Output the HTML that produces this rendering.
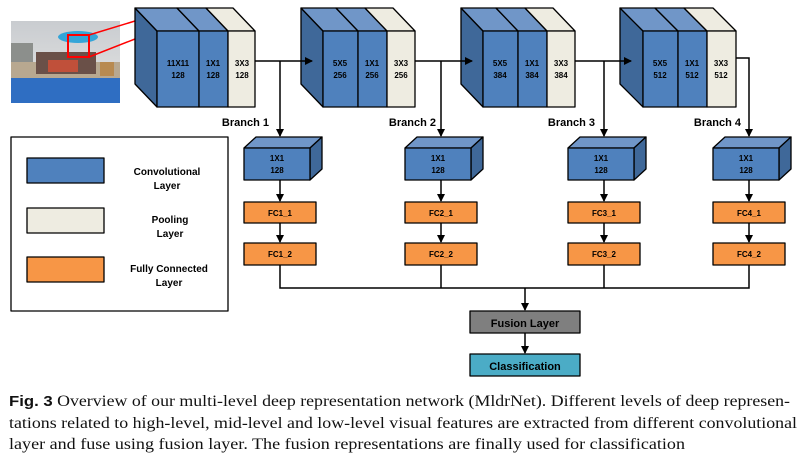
<!DOCTYPE html>
<html><head><meta charset="utf-8"><style>
html,body{margin:0;padding:0;background:#fff;}
svg{display:block;}
.b{font-family:"Liberation Sans",sans-serif;font-weight:bold;}
.s{font-family:"Liberation Serif",serif;font-size:16px;fill:#111;}
</style></head><body>
<svg width="807" height="464" viewBox="0 0 807 464" xmlns="http://www.w3.org/2000/svg">
<defs>
<marker id="a" markerWidth="8" markerHeight="8" refX="7" refY="4" orient="auto" markerUnits="userSpaceOnUse"><path d="M0,0 L8,4 L0,8 z" fill="#000"/></marker>
<linearGradient id="sky" x1="0" y1="0" x2="0" y2="1"><stop offset="0" stop-color="#c9ccd0"/><stop offset="1" stop-color="#e6e6e4"/></linearGradient>
</defs>
<!-- photo -->
<rect x="11" y="21" width="109" height="82" fill="url(#sky)"/>
<rect x="11" y="43" width="22" height="25" fill="#8c8f8c"/>
<rect x="11" y="62" width="109" height="18" fill="#b8a890"/>
<ellipse cx="78" cy="37" rx="20" ry="6" fill="#34a5d8"/>
<rect x="36" y="52" width="60" height="22" fill="#6a5048"/>
<rect x="48" y="60" width="30" height="12" fill="#c0503a"/>
<rect x="100" y="62" width="14" height="14" fill="#b88a50"/>
<rect x="11" y="78" width="109" height="25" fill="#2f6ec2"/>
<rect x="68" y="35" width="21" height="22" fill="none" stroke="#f00" stroke-width="2"/>
<line x1="89" y1="35" x2="135" y2="21" stroke="#f00" stroke-width="1.5"/>
<line x1="89" y1="57" x2="135" y2="39" stroke="#f00" stroke-width="1.5"/>

<g stroke="#000" stroke-width="1.3" stroke-linejoin="round">
<!-- Block 1 -->
<polygon points="135,8 157,31 157,107 135,84" fill="#3f6899"/>
<polygon points="135,8 177,8 199,31 157,31" fill="#7096c8"/>
<polygon points="177,8 206,8 228,31 199,31" fill="#7096c8"/>
<polygon points="206,8 233,8 255,31 228,31" fill="#eeece1"/>
<rect x="157" y="31" width="42" height="76" fill="#4f81bd"/>
<rect x="199" y="31" width="29" height="76" fill="#4f81bd"/>
<rect x="228" y="31" width="27" height="76" fill="#eeece1"/>
<!-- Block 2 -->
<polygon points="301,8 323,31 323,107 301,84" fill="#3f6899"/>
<polygon points="301,8 336,8 358,31 323,31" fill="#7096c8"/>
<polygon points="336,8 365,8 387,31 358,31" fill="#7096c8"/>
<polygon points="365,8 393,8 415,31 387,31" fill="#eeece1"/>
<rect x="323" y="31" width="35" height="76" fill="#4f81bd"/>
<rect x="358" y="31" width="29" height="76" fill="#4f81bd"/>
<rect x="387" y="31" width="28" height="76" fill="#eeece1"/>
<!-- Block 3 -->
<polygon points="461,8 483,31 483,107 461,84" fill="#3f6899"/>
<polygon points="461,8 496,8 518,31 483,31" fill="#7096c8"/>
<polygon points="496,8 525,8 547,31 518,31" fill="#7096c8"/>
<polygon points="525,8 553,8 575,31 547,31" fill="#eeece1"/>
<rect x="483" y="31" width="35" height="76" fill="#4f81bd"/>
<rect x="518" y="31" width="29" height="76" fill="#4f81bd"/>
<rect x="547" y="31" width="28" height="76" fill="#eeece1"/>
<!-- Block 4 -->
<polygon points="620,8 643,31 643,107 620,84" fill="#3f6899"/>
<polygon points="620,8 655,8 678,31 643,31" fill="#7096c8"/>
<polygon points="655,8 684,8 707,31 678,31" fill="#7096c8"/>
<polygon points="684,8 713,8 736,31 707,31" fill="#eeece1"/>
<rect x="643" y="31" width="35" height="76" fill="#4f81bd"/>
<rect x="678" y="31" width="29" height="76" fill="#4f81bd"/>
<rect x="707" y="31" width="29" height="76" fill="#eeece1"/>

<!-- branch boxes -->
<g id="bb">
</g>
<polygon points="244,148 256,137 322,137 310,148" fill="#7096c8"/><polygon points="310,148 322,137 322,169 310,180" fill="#3f6899"/><rect x="244" y="148" width="66" height="32" fill="#4f81bd"/>
<polygon points="405,148 417,137 483,137 471,148" fill="#7096c8"/><polygon points="471,148 483,137 483,169 471,180" fill="#3f6899"/><rect x="405" y="148" width="66" height="32" fill="#4f81bd"/>
<polygon points="568,148 580,137 646,137 634,148" fill="#7096c8"/><polygon points="634,148 646,137 646,169 634,180" fill="#3f6899"/><rect x="568" y="148" width="66" height="32" fill="#4f81bd"/>
<polygon points="713,148 725,137 791,137 779,148" fill="#7096c8"/><polygon points="779,148 791,137 791,169 779,180" fill="#3f6899"/><rect x="713" y="148" width="66" height="32" fill="#4f81bd"/>

<g fill="#f79646">
<rect x="244" y="202" width="72" height="21"/><rect x="244" y="243" width="72" height="22"/>
<rect x="405" y="202" width="72" height="21"/><rect x="405" y="243" width="72" height="22"/>
<rect x="568" y="202" width="72" height="21"/><rect x="568" y="243" width="72" height="22"/>
<rect x="713" y="202" width="72" height="21"/><rect x="713" y="243" width="72" height="22"/>
</g>
<rect x="470" y="311" width="110" height="22" fill="#7f7f7f"/>
<rect x="470" y="354" width="110" height="22" fill="#4bacc6"/>

<!-- legend -->
<rect x="11" y="137" width="217" height="174" fill="#fff"/>
<rect x="27" y="158" width="77" height="25" fill="#4f81bd"/>
<rect x="27" y="208" width="77" height="25" fill="#eeece1"/>
<rect x="27" y="257" width="77" height="25" fill="#f79646"/>
</g>

<!-- connectors -->
<g stroke="#000" stroke-width="1.5" fill="none">
<line x1="255" y1="61" x2="312" y2="61" marker-end="url(#a)"/>
<line x1="415" y1="61" x2="472" y2="61" marker-end="url(#a)"/>
<line x1="575" y1="61" x2="631" y2="61" marker-end="url(#a)"/>
<polyline points="736,58 749,58 749,136" marker-end="url(#a)"/>
<line x1="280" y1="61" x2="280" y2="136" marker-end="url(#a)"/>
<line x1="441" y1="61" x2="441" y2="136" marker-end="url(#a)"/>
<line x1="604" y1="61" x2="604" y2="136" marker-end="url(#a)"/>
<line x1="280" y1="180" x2="280" y2="201" marker-end="url(#a)"/>
<line x1="441" y1="180" x2="441" y2="201" marker-end="url(#a)"/>
<line x1="604" y1="180" x2="604" y2="201" marker-end="url(#a)"/>
<line x1="749" y1="180" x2="749" y2="201" marker-end="url(#a)"/>
<line x1="280" y1="223" x2="280" y2="242" marker-end="url(#a)"/>
<line x1="441" y1="223" x2="441" y2="242" marker-end="url(#a)"/>
<line x1="604" y1="223" x2="604" y2="242" marker-end="url(#a)"/>
<line x1="749" y1="223" x2="749" y2="242" marker-end="url(#a)"/>
<polyline points="280,265 280,288 749,288 749,265"/>
<line x1="441" y1="265" x2="441" y2="288"/>
<line x1="604" y1="265" x2="604" y2="288"/>
<line x1="525" y1="288" x2="525" y2="310" marker-end="url(#a)"/>
<line x1="525" y1="333" x2="525" y2="353" marker-end="url(#a)"/>
</g>

<!-- labels -->
<g class="b" font-size="8" fill="#000" text-anchor="middle">
<text x="178" y="66">11X11</text><text x="178" y="78">128</text>
<text x="213" y="66">1X1</text><text x="213" y="78">128</text>
<text x="242" y="66">3X3</text><text x="242" y="78">128</text>
<text x="340" y="66">5X5</text><text x="340" y="78">256</text>
<text x="372" y="66">1X1</text><text x="372" y="78">256</text>
<text x="401" y="66">3X3</text><text x="401" y="78">256</text>
<text x="500" y="66">5X5</text><text x="500" y="78">384</text>
<text x="532" y="66">1X1</text><text x="532" y="78">384</text>
<text x="561" y="66">3X3</text><text x="561" y="78">384</text>
<text x="660" y="66">5X5</text><text x="660" y="78">512</text>
<text x="692" y="66">1X1</text><text x="692" y="78">512</text>
<text x="721" y="66">3X3</text><text x="721" y="78">512</text>
<text x="277" y="161">1X1</text><text x="277" y="173">128</text>
<text x="438" y="161">1X1</text><text x="438" y="173">128</text>
<text x="601" y="161">1X1</text><text x="601" y="173">128</text>
<text x="746" y="161">1X1</text><text x="746" y="173">128</text>
<text x="280" y="216">FC1_1</text><text x="280" y="257">FC1_2</text>
<text x="441" y="216">FC2_1</text><text x="441" y="257">FC2_2</text>
<text x="604" y="216">FC3_1</text><text x="604" y="257">FC3_2</text>
<text x="749" y="216">FC4_1</text><text x="749" y="257">FC4_2</text>
</g>
<g class="b" font-size="11" fill="#000" text-anchor="middle">
<text x="525" y="327">Fusion Layer</text>
<text x="525" y="370">Classification</text>
<text x="167" y="175" font-size="10">Convolutional</text><text x="167" y="189" font-size="10">Layer</text>
<text x="170" y="223" font-size="10">Pooling</text><text x="170" y="237" font-size="10">Layer</text>
<text x="169" y="272" font-size="10">Fully Connected</text><text x="169" y="286" font-size="10">Layer</text>
</g>
<g class="b" font-size="11" fill="#000" text-anchor="end">
<text x="269" y="126">Branch 1</text>
<text x="436" y="126">Branch 2</text>
<text x="595" y="126">Branch 3</text>
<text x="741" y="126">Branch 4</text>
</g>

<!-- caption -->
<text x="9" y="406" class="s" textLength="781" lengthAdjust="spacingAndGlyphs"><tspan font-family="Liberation Sans,sans-serif" font-weight="bold" font-size="15">Fig. 3</tspan>  Overview of our multi-level deep representation network (MldrNet). Different levels of deep represen-</text>
<text x="9" y="428" class="s" textLength="788" lengthAdjust="spacingAndGlyphs">tations related to high-level, mid-level and low-level visual features are extracted from different convolutional</text>
<text x="9" y="449" class="s" textLength="676" lengthAdjust="spacingAndGlyphs">layer and fuse using fusion layer. The fusion representations are finally used for classification</text>
</svg>
</body></html>
